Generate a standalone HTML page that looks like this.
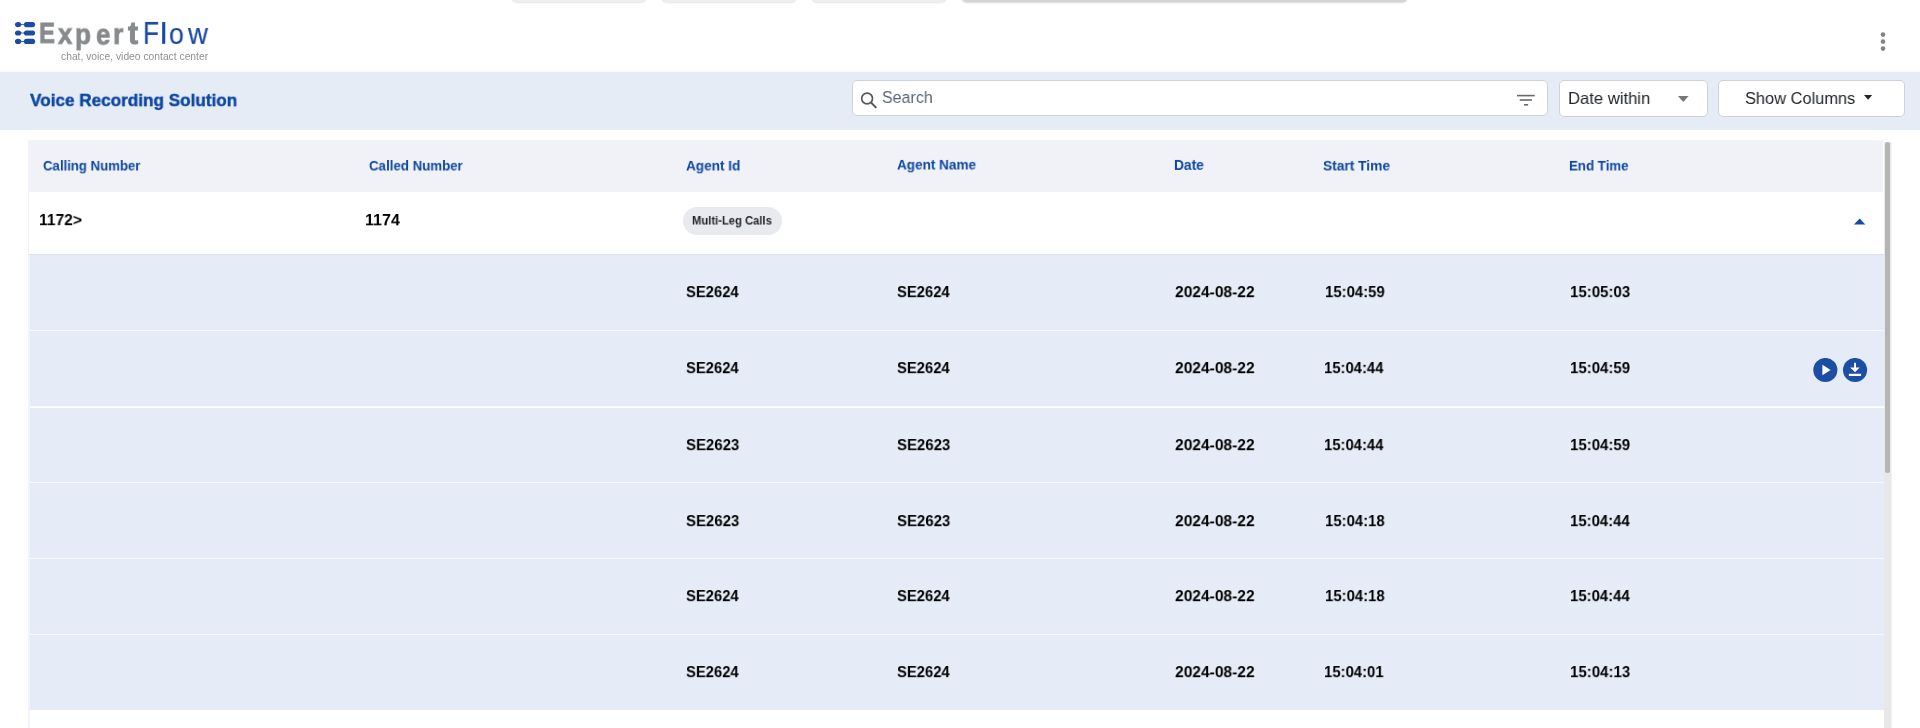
<!DOCTYPE html>
<html>
<head>
<meta charset="utf-8">
<title>Voice Recording Solution</title>
<style>
*{box-sizing:border-box;margin:0;padding:0}
html,body{width:1920px;height:728px;overflow:hidden;background:#fff;font-family:"Liberation Sans",sans-serif;color:#000}
.abs{position:absolute}
.t{position:absolute;white-space:nowrap;line-height:1;transform-origin:0 0;will-change:transform}
.tabs{position:absolute;top:-20px;height:22px;background:#efefef;border-radius:6px;box-shadow:0 0.5px 1.5px rgba(0,0,0,.10)}
.hbar{position:absolute;left:0;top:72px;width:1920px;height:58px;background:#e6ecf6;box-shadow:0 -1px 1px rgba(120,130,150,.06)}
.box{position:absolute;background:#fff;border:1px solid #ced3da;border-radius:5px}
.table{position:absolute;left:28px;top:140px;width:1856px;height:588px;background:#fff;border-left:2px solid #f2f3f8}
.th{position:absolute;top:140px;left:29px;width:1854.2px;height:52px;background:#f0f2f8;border-top-left-radius:4px}
.row0{position:absolute;left:29px;top:192px;width:1854.6px;height:63px;background:#fff;border-bottom:1px solid #dde1e9}
.sub{position:absolute;left:30px;width:1853.6px;background:#e5ecf7;border-bottom:1px solid #f9fafd}
.scroll{position:absolute;left:1884.3px;top:142px;width:6.8px;height:586px;background:#e8e8e8}
.thumb{position:absolute;left:1884.6px;top:142px;width:5.8px;height:331px;background:#b5b5b5;border-radius:2.9px}
</style>
</head>
<body>
<!-- partially hidden tabs at top -->
<div class="tabs" style="left:511px;width:136px"></div>
<div class="tabs" style="left:661px;width:136px"></div>
<div class="tabs" style="left:811px;width:136px"></div>
<div class="tabs" style="left:961px;width:447px;background:#d5d5d5;box-shadow:0 0.5px 1.5px rgba(0,0,0,.15)"></div>

<!-- logo mark -->
<svg class="abs" style="left:14px;top:21px" width="24" height="25" viewBox="0 0 24 25">
  <g fill="#1c4aa6">
    <ellipse cx="4.1" cy="3.6" rx="3.15" ry="2.55"/><rect x="9.9" y="1.05" width="11.2" height="5.1" rx="2.55"/>
    <ellipse cx="4.1" cy="12.0" rx="3.15" ry="2.55"/><rect x="9.9" y="9.45" width="11.2" height="5.1" rx="2.55"/>
    <ellipse cx="4.1" cy="20.4" rx="3.15" ry="2.55"/><rect x="9.9" y="17.85" width="11.2" height="5.1" rx="2.55"/>
    <path d="M6.5 2.9Q8.5 3.6 10.5 2.9V4.3Q8.5 3.6 6.5 4.3z"/><path d="M6.5 11.3Q8.5 12 10.5 11.3V12.7Q8.5 12 6.5 12.7z"/><path d="M6.5 19.7Q8.5 20.4 10.5 19.7V21.1Q8.5 20.4 6.5 21.1z"/>
  </g>
</svg>

<!-- kebab -->
<svg class="abs" style="left:1878px;top:31px" width="10" height="22">
  <circle cx="5" cy="3.6" r="2.3" fill="#838383"/><circle cx="5" cy="10.6" r="2.3" fill="#838383"/><circle cx="5" cy="17.6" r="2.3" fill="#838383"/>
</svg>

<div class="hbar"></div>

<div class="box" style="left:852px;top:80px;width:696px;height:36px"></div>
<svg class="abs" style="left:858px;top:89px" width="22" height="22" viewBox="0 0 22 22">
  <circle cx="9.1" cy="9.5" r="5.4" fill="none" stroke="#565656" stroke-width="1.7"/>
  <line x1="13" y1="13.5" x2="18.3" y2="18.9" stroke="#565656" stroke-width="2" stroke-linecap="butt"/>
</svg>
<svg class="abs" style="left:1516px;top:93px" width="20" height="14" viewBox="0 0 20 14">
  <rect x="1" y="1.8" width="17.7" height="1.6" fill="#6a6a6a"/>
  <rect x="3.7" y="6.2" width="12.2" height="1.6" fill="#6a6a6a"/>
  <rect x="8" y="11" width="4.1" height="1.6" fill="#6a6a6a"/>
</svg>

<div class="box" style="left:1559px;top:80px;width:149px;height:36.5px"></div>
<svg class="abs" style="left:1678px;top:95.6px" width="11" height="6.5"><path d="M0 0H10.6L5.3 6z" fill="#777"/></svg>

<div class="box" style="left:1718px;top:80px;width:187px;height:36.5px"></div>
<svg class="abs" style="left:1864px;top:95.2px" width="9" height="5"><path d="M0 0H8.2L4.1 4.7z" fill="#212529"/></svg>

<!-- table -->
<div class="table"></div>
<div class="th"></div>
<div class="row0"></div>
<div class="abs" style="left:683px;top:207px;width:99px;height:28px;border-radius:14px;background:#e9eaef"></div>
<svg class="abs" style="left:1854px;top:218px" width="12" height="7"><path d="M0 6.6L5.65 0.4 11.3 6.6z" fill="#1a4aa0"/></svg>

<div class="sub" style="top:255.00px;height:75.80px"></div>
<div class="sub" style="top:330.80px;height:76.70px"></div>
<div class="sub" style="top:407.50px;height:75.90px"></div>
<div class="sub" style="top:483.40px;height:75.90px"></div>
<div class="sub" style="top:559.30px;height:75.80px"></div>
<div class="sub" style="top:635.10px;height:74.70px;border-bottom:0"></div>

<!-- play / download -->
<svg class="abs" style="left:1813px;top:358px" width="56" height="25" viewBox="0 0 56 25">
  <circle cx="12.35" cy="12" r="12.05" fill="#1c4ea3"/>
  <path d="M9.4 6.7V17.2L17.6 12z" fill="#fff"/>
  <circle cx="42.05" cy="12" r="12.05" fill="#1c4ea3"/>
  <rect x="41.1" y="4.8" width="1.9" height="6" fill="#fff"/>
  <path d="M37.2 9.4H46.7L42 14.2z" fill="#fff"/>
  <rect x="35.9" y="15.75" width="12.2" height="2.25" fill="#fff"/>
</svg>

<div class="scroll"></div>
<div class="thumb"></div>
<div class="abs" style="left:1891px;top:142px;width:1px;height:586px;background:#f1f2f8"></div>

<div id="title" class="t" style="left:29.52px;top:92.31px;font-size:18px;font-weight:bold;color:#0d47a1;transform:scale(0.9515,0.9400);-webkit-text-stroke:0.45px #0d47a1">Voice Recording Solution</div>
<div id="h1" class="t" style="left:42.50px;top:159.15px;font-size:14px;font-weight:bold;color:#0d47a1;transform:scale(0.9409,0.9542);">Calling Number</div>
<div id="h2" class="t" style="left:369.43px;top:159.12px;font-size:14px;font-weight:bold;color:#0d47a1;transform:scale(0.9494,0.9542);">Called Number</div>
<div id="h3" class="t" style="left:685.97px;top:158.77px;font-size:14px;font-weight:bold;color:#0d47a1;transform:scale(0.9697,0.9542);">Agent Id</div>
<div id="h4" class="t" style="left:896.99px;top:157.66px;font-size:14px;font-weight:bold;color:#0d47a1;transform:scale(0.9666,0.9542);">Agent Name</div>
<div id="h5" class="t" style="left:1174.46px;top:157.15px;font-size:14px;font-weight:bold;color:#0d47a1;transform:scale(0.9832,1.0958);">Date</div>
<div id="h6" class="t" style="left:1323.19px;top:158.51px;font-size:14px;font-weight:bold;color:#0d47a1;transform:scale(0.9819,0.9557);">Start Time</div>
<div id="h7" class="t" style="left:1569.06px;top:158.77px;font-size:14px;font-weight:bold;color:#0d47a1;transform:scale(0.9475,0.9559);">End Time</div>
<div id="r0a" class="t" style="left:38.67px;top:212.80px;font-size:16px;font-weight:bold;color:#000;transform:scale(0.9762,0.9355);">1172&gt;</div>
<div id="r0b" class="t" style="left:365.22px;top:212.60px;font-size:16px;font-weight:bold;color:#000;transform:scale(1.0044,0.9447);">1174</div>
<div id="chip" class="t" style="left:691.98px;top:215.40px;font-size:12px;font-weight:bold;color:#212529;transform:scale(0.9351,0.9542);">Multi-Leg Calls</div>
<div id="search" class="t" style="left:881.56px;top:89.30px;font-size:17px;font-weight:normal;color:#5b6774;transform:scale(0.9417,1.0211);">Search</div>
<div id="datew" class="t" style="left:1568.32px;top:90.20px;font-size:17px;font-weight:normal;color:#212529;transform:scale(0.9777,1.0067);">Date within</div>
<div id="showc" class="t" style="left:1744.68px;top:89.93px;font-size:17px;font-weight:normal;color:#212529;transform:scale(0.9652,1.0150);">Show Columns</div>
<div id="tag" class="t" style="left:60.76px;top:52.20px;font-size:10px;font-weight:normal;color:#8e9194;transform:scale(1.0297,1.0000);">chat, voice, video contact center</div>
<div id="LE" class="t" style="left:39.03px;top:18.07px;font-size:30px;font-weight:bold;color:#878b8e;transform:scale(0.7977,0.9918);-webkit-text-stroke:0.9px #878b8e">E</div>
<div id="Lx" class="t" style="left:58.15px;top:19.53px;font-size:30px;font-weight:bold;color:#878b8e;transform:scale(0.8509,0.9454);-webkit-text-stroke:0.9px #878b8e">x</div>
<div id="Lp" class="t" style="left:75.35px;top:19.55px;font-size:30px;font-weight:bold;color:#878b8e;transform:scale(0.8669,0.9637);-webkit-text-stroke:0.9px #878b8e">p</div>
<div id="Le" class="t" style="left:95.56px;top:19.56px;font-size:30px;font-weight:bold;color:#878b8e;transform:scale(0.8571,0.9829);-webkit-text-stroke:0.9px #878b8e">e</div>
<div id="Lr" class="t" style="left:113.49px;top:19.80px;font-size:30px;font-weight:bold;color:#878b8e;transform:scale(0.8763,0.9497);-webkit-text-stroke:0.9px #878b8e">r</div>
<div id="Lt" class="t" style="left:127.96px;top:17.73px;font-size:30px;font-weight:bold;color:#878b8e;transform:scale(1.0055,1.0519);-webkit-text-stroke:0.9px #878b8e">t</div>
<div id="LF" class="t" style="left:143.21px;top:18.34px;font-size:30px;font-weight:normal;color:#1a4aa5;transform:scale(0.8692,1.0370);-webkit-text-stroke:0.2px #1a4aa5">F</div>
<div id="Ll" class="t" style="left:159.50px;top:19.16px;font-size:30px;font-weight:normal;color:#1a4aa5;transform:scale(1.0913,0.9926);-webkit-text-stroke:0.2px #1a4aa5">l</div>
<div id="Lo" class="t" style="left:168.72px;top:19.11px;font-size:30px;font-weight:normal;color:#1a4aa5;transform:scale(0.8863,0.9992);-webkit-text-stroke:0.2px #1a4aa5">o</div>
<div id="Lw" class="t" style="left:187.89px;top:19.05px;font-size:30px;font-weight:normal;color:#1a4aa5;transform:scale(0.9183,0.9958);-webkit-text-stroke:0.2px #1a4aa5">w</div>
<div id="s0_0" class="t" style="left:686.21px;top:285.20px;font-size:16px;font-weight:bold;color:#000;transform:scale(0.9243,0.9350);">SE2624</div>
<div id="s0_1" class="t" style="left:897.01px;top:285.20px;font-size:16px;font-weight:bold;color:#000;transform:scale(0.9246,0.9350);">SE2624</div>
<div id="s0_2" class="t" style="left:1174.65px;top:285.20px;font-size:16px;font-weight:bold;color:#000;transform:scale(0.9727,0.9350);">2024-08-22</div>
<div id="s0_3" class="t" style="left:1324.70px;top:285.20px;font-size:16px;font-weight:bold;color:#000;transform:scale(0.9311,0.9350);">15:04:59</div>
<div id="s0_4" class="t" style="left:1569.87px;top:285.17px;font-size:16px;font-weight:bold;color:#000;transform:scale(0.9386,0.9360);">15:05:03</div>
<div id="s1_0" class="t" style="left:686.21px;top:361.02px;font-size:16px;font-weight:bold;color:#000;transform:scale(0.9243,0.9350);">SE2624</div>
<div id="s1_1" class="t" style="left:897.01px;top:361.02px;font-size:16px;font-weight:bold;color:#000;transform:scale(0.9246,0.9350);">SE2624</div>
<div id="s1_2" class="t" style="left:1174.65px;top:361.02px;font-size:16px;font-weight:bold;color:#000;transform:scale(0.9727,0.9350);">2024-08-22</div>
<div id="s1_3" class="t" style="left:1324.38px;top:361.02px;font-size:16px;font-weight:bold;color:#000;transform:scale(0.9261,0.9358);">15:04:44</div>
<div id="s1_4" class="t" style="left:1569.89px;top:361.02px;font-size:16px;font-weight:bold;color:#000;transform:scale(0.9373,0.9358);">15:04:59</div>
<div id="s2_0" class="t" style="left:686.21px;top:437.59px;font-size:16px;font-weight:bold;color:#000;transform:scale(0.9353,0.9350);">SE2623</div>
<div id="s2_1" class="t" style="left:897.01px;top:437.59px;font-size:16px;font-weight:bold;color:#000;transform:scale(0.9353,0.9350);">SE2623</div>
<div id="s2_2" class="t" style="left:1174.65px;top:437.59px;font-size:16px;font-weight:bold;color:#000;transform:scale(0.9727,0.9350);">2024-08-22</div>
<div id="s2_3" class="t" style="left:1324.38px;top:437.59px;font-size:16px;font-weight:bold;color:#000;transform:scale(0.9261,0.9358);">15:04:44</div>
<div id="s2_4" class="t" style="left:1569.89px;top:437.59px;font-size:16px;font-weight:bold;color:#000;transform:scale(0.9373,0.9358);">15:04:59</div>
<div id="s3_0" class="t" style="left:686.21px;top:513.60px;font-size:16px;font-weight:bold;color:#000;transform:scale(0.9353,0.9350);">SE2623</div>
<div id="s3_1" class="t" style="left:897.01px;top:513.60px;font-size:16px;font-weight:bold;color:#000;transform:scale(0.9353,0.9350);">SE2623</div>
<div id="s3_2" class="t" style="left:1174.65px;top:513.60px;font-size:16px;font-weight:bold;color:#000;transform:scale(0.9727,0.9350);">2024-08-22</div>
<div id="s3_3" class="t" style="left:1324.69px;top:513.60px;font-size:16px;font-weight:bold;color:#000;transform:scale(0.9304,0.9350);">15:04:18</div>
<div id="s3_4" class="t" style="left:1569.94px;top:513.60px;font-size:16px;font-weight:bold;color:#000;transform:scale(0.9307,0.9346);">15:04:44</div>
<div id="s4_0" class="t" style="left:686.21px;top:589.21px;font-size:16px;font-weight:bold;color:#000;transform:scale(0.9243,0.9350);">SE2624</div>
<div id="s4_1" class="t" style="left:897.01px;top:589.21px;font-size:16px;font-weight:bold;color:#000;transform:scale(0.9246,0.9350);">SE2624</div>
<div id="s4_2" class="t" style="left:1174.65px;top:589.21px;font-size:16px;font-weight:bold;color:#000;transform:scale(0.9727,0.9350);">2024-08-22</div>
<div id="s4_3" class="t" style="left:1324.69px;top:589.21px;font-size:16px;font-weight:bold;color:#000;transform:scale(0.9304,0.9350);">15:04:18</div>
<div id="s4_4" class="t" style="left:1569.94px;top:589.21px;font-size:16px;font-weight:bold;color:#000;transform:scale(0.9307,0.9346);">15:04:44</div>
<div id="s5_0" class="t" style="left:686.21px;top:665.10px;font-size:16px;font-weight:bold;color:#000;transform:scale(0.9243,0.9350);">SE2624</div>
<div id="s5_1" class="t" style="left:897.01px;top:665.10px;font-size:16px;font-weight:bold;color:#000;transform:scale(0.9246,0.9350);">SE2624</div>
<div id="s5_2" class="t" style="left:1174.65px;top:665.10px;font-size:16px;font-weight:bold;color:#000;transform:scale(0.9727,0.9350);">2024-08-22</div>
<div id="s5_3" class="t" style="left:1324.16px;top:665.10px;font-size:16px;font-weight:bold;color:#000;transform:scale(0.9293,0.9350);">15:04:01</div>
<div id="s5_4" class="t" style="left:1569.91px;top:665.10px;font-size:16px;font-weight:bold;color:#000;transform:scale(0.9388,0.9350);">15:04:13</div>
</body>
</html>
